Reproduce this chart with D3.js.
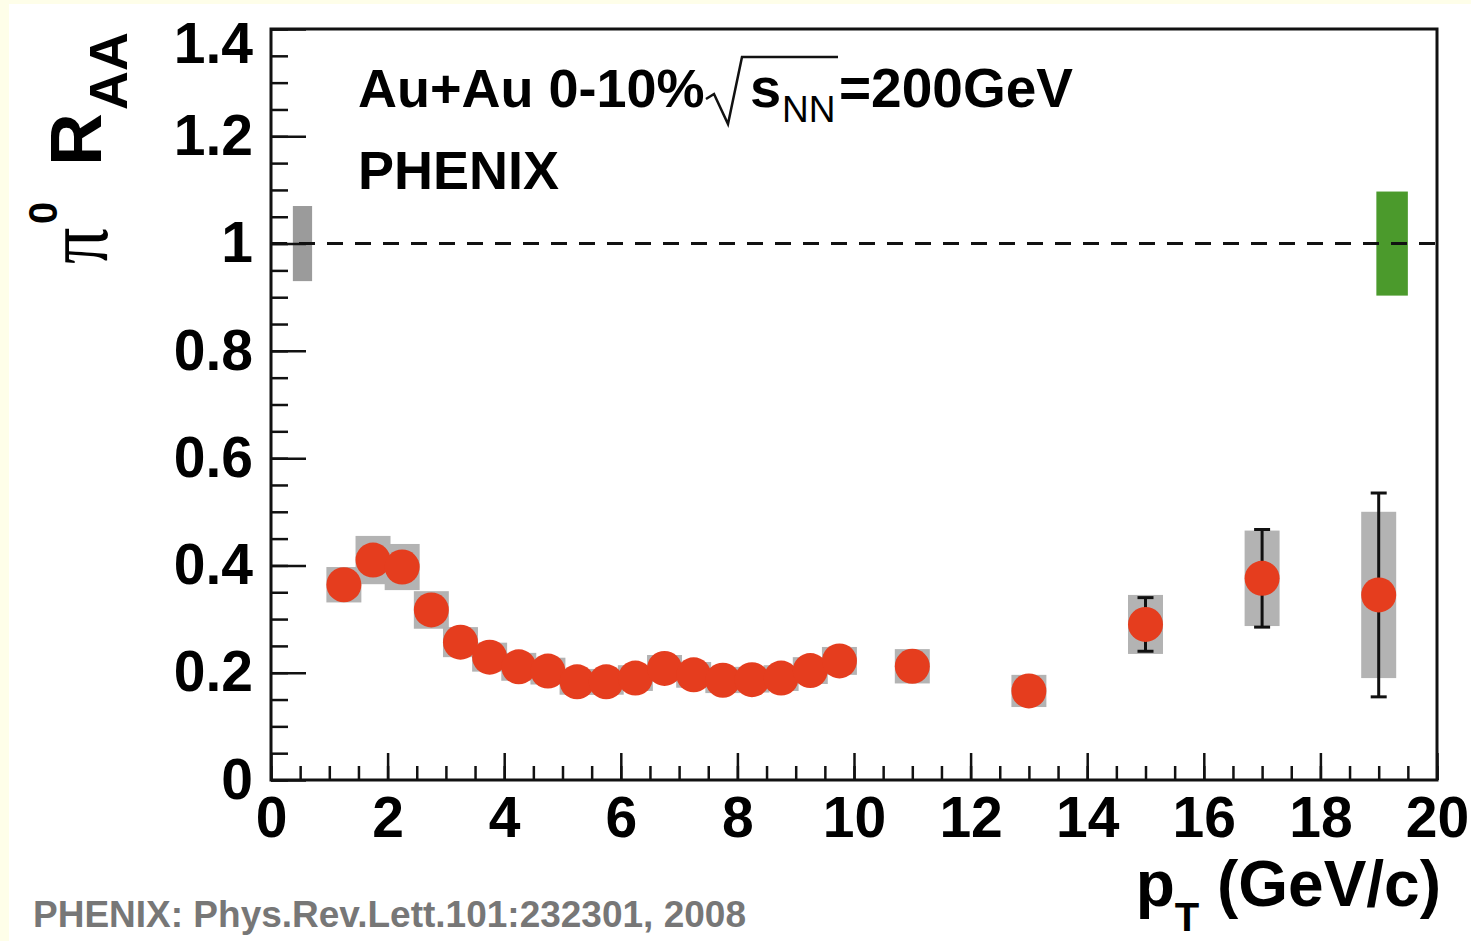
<!DOCTYPE html>
<html>
<head>
<meta charset="utf-8">
<script src="https://cdn.jsdelivr.net/npm/d3@7"></script>
<style>
  html, body { margin: 0; padding: 0; background: #fefee9; }
  svg { display: block; }
  text { font-family: "Liberation Sans", Arial, Helvetica, sans-serif; }
</style>
</head>
<body>
<script>
// pi0 nuclear modification factor, Au+Au 0-10% central, sqrt(sNN) = 200 GeV
const pT       = [1.25, 1.75, 2.25, 2.75, 3.25, 3.75, 4.25, 4.75, 5.25, 5.75, 6.25, 6.75,
                  7.25, 7.75, 8.25, 8.75, 9.25, 9.75, 11, 13, 15, 17, 19];
const raa      = [0.364, 0.410, 0.397, 0.317, 0.257, 0.229, 0.211, 0.203, 0.183, 0.183, 0.190, 0.208,
                  0.196, 0.186, 0.187, 0.190, 0.204, 0.222, 0.212, 0.166, 0.290, 0.376, 0.345];
const statErr  = [0.004, 0.004, 0.004, 0.004, 0.004, 0.004, 0.004, 0.004, 0.004, 0.005, 0.005, 0.006,
                  0.006, 0.007, 0.008, 0.009, 0.010, 0.012, 0.014, 0.022, 0.050, 0.091, 0.190];
const sysErr   = [0.033, 0.045, 0.043, 0.035, 0.028, 0.027, 0.026, 0.025, 0.024, 0.024, 0.024, 0.025,
                  0.024, 0.024, 0.024, 0.024, 0.025, 0.026, 0.032, 0.030, 0.055, 0.089, 0.155];
const sysHalfWidth = 0.3;

// global normalisation uncertainties drawn around RAA = 1
const normBoxX      = [0.54, 19.23];
const normBoxHalfW  = [0.165, 0.27];
const normBoxErr    = [0.07, 0.097];
const normBoxColor  = ["#9b9b9b", "#4b9a2c"];

const xTickValues = [0, 2, 4, 6, 8, 10, 12, 14, 16, 18, 20];
const xTickLabels = ["0", "2", "4", "6", "8", "10", "12", "14", "16", "18", "20"];
const yTickValues = [0, 0.2, 0.4, 0.6, 0.8, 1.0, 1.2, 1.4];
const yTickLabels = ["0", "0.2", "0.4", "0.6", "0.8", "1", "1.2", "1.4"];

const W = 1471, H = 941;
const plot = { left: 271, right: 1437, top: 29, bottom: 780 };

const svg = d3.select("body").append("svg").attr("width", W).attr("height", H);
svg.append("rect").attr("width", W).attr("height", H).attr("fill", "#fefee9");
svg.append("rect").attr("x", 9).attr("y", 4).attr("width", W - 9).attr("height", H - 4).attr("fill", "#ffffff");

const x = d3.scaleLinear().domain([0, 20]).range([plot.left, plot.right]);
const y = d3.scaleLinear().domain([0, 1.4]).range([plot.bottom, plot.top]);

const data = pT.map((p, i) => ({ p, v: raa[i], stat: statErr[i], sys: sysErr[i] }));

// systematic boxes
svg.append("g").selectAll("rect").data(data).join("rect")
  .attr("x", d => x(d.p - sysHalfWidth))
  .attr("width", d => x(d.p + sysHalfWidth) - x(d.p - sysHalfWidth))
  .attr("y", d => y(d.v + d.sys))
  .attr("height", d => y(d.v - d.sys) - y(d.v + d.sys))
  .attr("fill", "#b3b3b3");

// normalisation boxes
svg.append("g").selectAll("rect").data(normBoxX).join("rect")
  .attr("x", (d, i) => x(d - normBoxHalfW[i]))
  .attr("width", (d, i) => x(d + normBoxHalfW[i]) - x(d - normBoxHalfW[i]))
  .attr("y", (d, i) => y(1 + normBoxErr[i]))
  .attr("height", (d, i) => y(1 - normBoxErr[i]) - y(1 + normBoxErr[i]))
  .attr("fill", (d, i) => normBoxColor[i]);

// unity reference line
svg.append("line")
  .attr("x1", x(0)).attr("x2", x(20)).attr("y1", y(1)).attr("y2", y(1))
  .attr("stroke", "#111").attr("stroke-width", 3).attr("stroke-dasharray", "16,12");

// statistical error bars
const eb = svg.append("g").attr("stroke", "#111").attr("stroke-width", 3);
eb.selectAll("line.v").data(data).join("line").attr("class", "v")
  .attr("x1", d => x(d.p)).attr("x2", d => x(d.p))
  .attr("y1", d => y(d.v + d.stat)).attr("y2", d => y(d.v - d.stat));
const capHalf = 8;
eb.selectAll("line.t").data(data).join("line").attr("class", "t")
  .attr("x1", d => x(d.p) - capHalf).attr("x2", d => x(d.p) + capHalf)
  .attr("y1", d => y(d.v + d.stat)).attr("y2", d => y(d.v + d.stat));
eb.selectAll("line.b").data(data).join("line").attr("class", "b")
  .attr("x1", d => x(d.p) - capHalf).attr("x2", d => x(d.p) + capHalf)
  .attr("y1", d => y(d.v - d.stat)).attr("y2", d => y(d.v - d.stat));

// markers
svg.append("g").selectAll("circle").data(data).join("circle")
  .attr("cx", d => x(d.p)).attr("cy", d => y(d.v)).attr("r", 17.5)
  .attr("fill", "#e53d1e");

// axes: ticks point inward
const styleAxis = g => {
  g.select(".domain").remove();
  g.selectAll(".tick line").attr("stroke", "#111").attr("stroke-width", 2.5);
  g.selectAll(".tick text").attr("fill", "#000")
    .style("font-family", '"Liberation Sans", Arial, sans-serif')
    .style("font-weight", "bold").style("font-size", "57px");
};

svg.append("g").attr("transform", `translate(0,${plot.bottom})`)
  .call(d3.axisBottom(x).tickValues(d3.range(0, 20.01, 0.5)).tickSize(-14).tickFormat(""))
  .call(styleAxis);
svg.append("g").attr("transform", `translate(0,${plot.bottom})`)
  .call(d3.axisBottom(x).tickValues(xTickValues).tickSize(-27).tickPadding(17)
    .tickFormat((d, i) => xTickLabels[i]))
  .call(styleAxis);

svg.append("g").attr("transform", `translate(${plot.left},0)`)
  .call(d3.axisLeft(y).tickValues(d3.range(0, 1.401, 0.05)).tickSize(-17).tickFormat(""))
  .call(styleAxis);
const yAxisG = svg.append("g").attr("transform", `translate(${plot.left},0)`)
  .call(d3.axisLeft(y).tickValues(yTickValues).tickSize(-35).tickPadding(18)
    .tickFormat((d, i) => yTickLabels[i]))
  .call(styleAxis);
// keep the top label inside the canvas
yAxisG.selectAll(".tick").filter(d => d === 1.4).select("text").attr("y", 15);

// frame
svg.append("rect")
  .attr("x", plot.left).attr("y", plot.top)
  .attr("width", plot.right - plot.left).attr("height", plot.bottom - plot.top)
  .attr("fill", "none").attr("stroke", "#111").attr("stroke-width", 3);

// y-axis title: pi^0 R_AA
const yt = svg.append("g").attr("fill", "#000");
yt.append("text").attr("transform", "translate(107,264) rotate(-90) scale(0.9,1.15)")
  .style("font-family", '"Liberation Serif", "DejaVu Serif", serif')
  .style("font-size", "80px").text("π");
yt.append("text").attr("transform", "translate(57,224) rotate(-90)")
  .style("font-weight", "bold").style("font-size", "40px").text("0");
yt.append("text").attr("transform", "translate(101,166) rotate(-90)")
  .style("font-weight", "bold").style("font-size", "73px").text("R");
yt.append("text").attr("transform", "translate(127,110) rotate(-90)")
  .style("font-weight", "bold").style("font-size", "54px").text("AA");

// x-axis title: p_T (GeV/c)
const xt = svg.append("text").attr("x", 1441).attr("y", 906).attr("text-anchor", "end")
  .style("font-weight", "bold").style("font-size", "64px").attr("fill", "#000");
xt.append("tspan").text("p");
xt.append("tspan").attr("dy", 25).style("font-size", "40px").text("T");
xt.append("tspan").attr("dy", -25).text(" (GeV/c)");

// annotations
svg.append("text").attr("x", 358).attr("y", 107)
  .style("font-weight", "bold").style("font-size", "54px").text("Au+Au 0-10%");
svg.append("path")
  .attr("d", "M706,99 L714,94 L728,124 L742,57 L838,57")
  .attr("fill", "none").attr("stroke", "#111").attr("stroke-width", 2.5)
  .attr("stroke-linejoin", "miter");
svg.append("text").attr("x", 750).attr("y", 107)
  .style("font-weight", "bold").style("font-size", "56px").text("s");
svg.append("text").attr("x", 782).attr("y", 122)
  .style("font-size", "37px").text("NN");
svg.append("text").attr("x", 839).attr("y", 107)
  .style("font-weight", "bold").style("font-size", "55px").text("=200GeV");
svg.append("text").attr("x", 358).attr("y", 189)
  .style("font-weight", "bold").style("font-size", "54px").text("PHENIX");

// reference
svg.append("text").attr("x", 33).attr("y", 927)
  .style("font-weight", "bold").style("font-size", "37px").attr("fill", "#777")
  .text("PHENIX: Phys.Rev.Lett.101:232301, 2008");
</script>
</body>
</html>
